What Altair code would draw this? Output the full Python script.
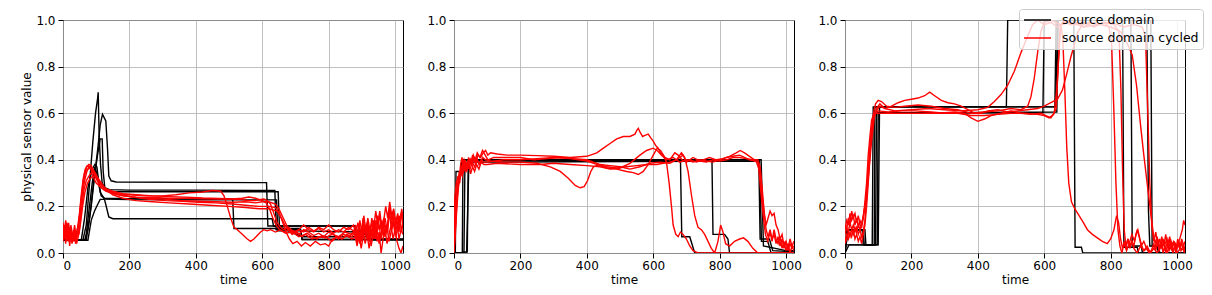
import altair as alt
import pandas as pd

# ---------------- data (x = time, y = physical sensor value) ----------------
# Panel 1
p1_source = [
    [(0,.055),(60,.055),(70,.12),(80,.3),(90,.48),(98,.6),(104,.66),(106,.69),(109,.5),(113,.38),(118,.3),(126,.28),(140,.272),(200,.27),(400,.27),(638,.268),(642,.1),(660,.1),(715,.1),(720,.058),(1024,.058)],
    [(0,.055),(65,.055),(75,.1),(85,.2),(95,.33),(105,.45),(112,.55),(119,.595),(129,.567),(134,.45),(138,.33),(145,.31),(160,.305),(400,.303),(613,.302),(617,.116),(880,.116),(884,.097),(918,.097),(922,.058),(1024,.058)],
    [(0,.055),(70,.055),(80,.15),(92,.3),(104,.42),(112,.49),(118,.49),(121,.35),(126,.28),(135,.265),(160,.263),(400,.263),(648,.263),(652,.11),(665,.105),(720,.07),(920,.07),(923,.058),(1024,.058)],
    [(0,.055),(75,.055),(85,.14),(95,.18),(105,.21),(112,.23),(125,.23),(132,.19),(138,.155),(150,.147),(400,.147),(630,.147),(634,.116),(880,.116),(884,.08),(925,.08),(928,.058),(1024,.058)],
    [(0,.055),(55,.055),(65,.15),(75,.28),(88,.36),(96,.38),(102,.37),(108,.3),(115,.245),(125,.235),(200,.233),(511,.232),(515,.105),(715,.105),(720,.058),(1024,.058)],
    [(0,.055),(68,.055),(78,.18),(88,.3),(96,.37),(104,.33),(112,.26),(125,.232),(200,.229),(400,.228),(643,.228),(647,.095),(700,.095),(900,.09),(920,.075),(925,.058),(1024,.058)],
]
p1_cycled = [
    [(0,.08),(5,.12),(9,.06),(13,.1),(17,.05),(22,.09),(27,.04),(32,.07),(37,.05),(42,.09),(47,.12),(52,.18),(58,.25),(65,.31),(72,.35),(78,.37),(84,.36),(90,.33),(100,.30),(115,.28),(130,.265),(160,.255),(200,.25),(250,.245),(300,.245),(340,.25),(380,.258),(420,.262),(450,.268),(475,.265),(485,.245),(495,.2),(505,.15),(515,.11),(525,.1),(540,.08),(555,.06),(565,.05),(575,.06),(585,.075),(595,.09),(605,.1),(615,.095),(625,.1),(640,.09),(655,.1),(670,.085),(690,.09),(710,.07),(730,.08),(750,.06),(770,.07),(790,.065),(810,.08),(830,.07),(850,.09),(870,.08),(880,.1),(886,.06),(892,.12),(898,.08),(904,.15),(910,.09),(916,.13),(922,.05),(928,.1),(934,.07),(940,.14),(946,.09),(952,.12),(958,.06),(964,.1),(970,.15),(976,.1),(982,.18),(988,.12),(994,.16),(1000,.1),(1006,.14),(1012,.09),(1018,.17),(1024,.12)],
    [(0,.1),(5,.06),(9,.12),(13,.08),(17,.13),(21,.07),(25,.11),(30,.06),(34,.09),(38,.04),(43,.08),(48,.14),(54,.22),(60,.3),(66,.35),(72,.37),(78,.38),(85,.375),(92,.35),(100,.32),(110,.29),(125,.27),(150,.255),(180,.245),(220,.24),(270,.238),(320,.235),(380,.235),(430,.233),(480,.232),(530,.23),(560,.225),(580,.225),(595,.23),(605,.232),(615,.225),(625,.21),(635,.17),(645,.13),(655,.11),(665,.1),(680,.11),(695,.09),(710,.1),(725,.12),(740,.1),(755,.09),(770,.11),(785,.1),(800,.12),(815,.1),(830,.09),(845,.11),(860,.1),(875,.12),(882,.08),(888,.13),(894,.1),(900,.05),(906,.11),(912,.08),(918,.15),(924,.1),(930,.13),(936,.06),(942,.11),(948,.16),(954,.1),(960,.14),(966,.07),(972,.12),(978,.09),(984,.2),(990,.14),(996,.18),(1002,.12),(1008,.16),(1014,.1),(1020,.19),(1024,.15)],
    [(0,.12),(4,.08),(8,.14),(12,.1),(16,.06),(21,.11),(26,.08),(31,.05),(36,.09),(41,.04),(46,.07),(51,.12),(57,.2),(63,.27),(70,.31),(78,.33),(86,.345),(94,.35),(102,.33),(112,.3),(125,.28),(145,.265),(170,.25),(210,.24),(260,.23),(310,.225),(360,.222),(410,.218),(460,.215),(510,.21),(550,.205),(590,.2),(620,.2),(640,.195),(652,.17),(662,.13),(672,.09),(682,.06),(692,.04),(705,.05),(718,.03),(730,.045),(745,.03),(760,.05),(775,.035),(790,.04),(800,.03),(812,.06),(825,.07),(840,.06),(855,.08),(870,.07),(880,.09),(886,.04),(892,.08),(898,.02),(904,.07),(910,.11),(916,.06),(922,.1),(928,.03),(934,.08),(940,.12),(946,.05),(952,.09),(958,.0),(964,.06),(970,.1),(976,.04),(982,.08),(988,.12),(994,.06),(1000,.1),(1006,.05),(1012,.02),(1018,.0),(1024,.03)],
    [(0,.05),(4,.09),(8,.04),(12,.13),(16,.09),(20,.05),(25,.1),(30,.07),(35,.12),(40,.06),(45,.1),(50,.15),(56,.24),(62,.31),(68,.35),(75,.36),(82,.365),(90,.36),(98,.34),(108,.31),(120,.285),(140,.26),(170,.25),(210,.24),(260,.235),(310,.23),(360,.225),(410,.222),(460,.22),(510,.218),(550,.22),(580,.215),(600,.22),(620,.22),(640,.21),(650,.19),(660,.16),(670,.13),(680,.1),(695,.095),(710,.08),(725,.1),(740,.09),(755,.075),(770,.085),(785,.07),(800,.09),(815,.08),(830,.06),(845,.08),(860,.07),(875,.09),(882,.12),(888,.07),(894,.14),(900,.09),(906,.16),(912,.1),(918,.13),(924,.07),(930,.15),(936,.11),(942,.18),(948,.12),(954,.16),(960,.09),(966,.14),(972,.2),(978,.15),(984,.22),(990,.16),(996,.19),(1002,.13),(1008,.17),(1014,.12),(1020,.18),(1024,.14)],
    [(0,.13),(4,.09),(8,.13),(12,.07),(16,.11),(20,.08),(24,.12),(28,.05),(33,.09),(38,.06),(43,.1),(48,.08),(53,.13),(59,.2),(66,.26),(74,.3),(82,.32),(90,.33),(98,.33),(106,.32),(116,.3),(130,.27),(150,.25),(180,.235),(220,.225),(270,.22),(320,.215),(380,.21),(440,.205),(500,.2),(550,.195),(590,.19),(620,.19),(645,.18),(658,.15),(668,.12),(678,.1),(690,.08),(705,.09),(720,.07),(735,.085),(750,.07),(765,.06),(780,.075),(795,.065),(810,.05),(825,.07),(840,.06),(855,.075),(870,.06),(880,.07),(886,.03),(892,.09),(898,.05),(904,.1),(910,.04),(916,.08),(922,.02),(928,.07),(934,.12),(940,.06),(946,.1),(952,.04),(958,.08),(964,.13),(970,.07),(976,.11),(982,.05),(988,.09),(994,.14),(1000,.08),(1006,.12),(1012,.06),(1018,.1),(1024,.08)],
    [(0,.07),(4,.12),(8,.08),(12,.05),(16,.1),(20,.03),(24,.08),(29,.05),(34,.1),(39,.07),(44,.11),(49,.16),(55,.25),(61,.32),(67,.36),(73,.375),(80,.37),(88,.355),(96,.33),(105,.31),(115,.29),(130,.275),(150,.265),(180,.255),(220,.25),(270,.245),(320,.242),(370,.24),(420,.236),(470,.234),(510,.232),(540,.235),(560,.24),(580,.235),(600,.225),(612,.215),(622,.19),(632,.15),(642,.12),(652,.1),(665,.09),(680,.1),(695,.085),(710,.1),(725,.09),(740,.11),(755,.095),(770,.105),(785,.09),(800,.1),(815,.085),(830,.1),(845,.09),(860,.11),(875,.095),(882,.06),(888,.1),(894,.04),(900,.09),(906,.13),(912,.07),(918,.11),(924,.05),(930,.1),(936,.14),(942,.08),(948,.12),(954,.18),(960,.11),(966,.15),(972,.08),(978,.13),(984,.17),(990,.1),(996,.14),(1002,.07),(1008,.11),(1014,.16),(1020,.09),(1024,.13)],
]

# Panel 2
p2_source = [
    [(0,0),(4,0),(6,.35),(20,.35),(24,.4),(682,.4),(686,.07),(710,.07),(725,0),(1024,0)],
    [(0,0),(25,0),(27,.4),(777,.395),(780,.08),(815,.08),(825,.06),(830,0),(1024,0)],
    [(0,0),(26,0),(28,.005),(40,.005),(43,.4),(918,.4),(922,.06),(950,.06),(960,.01),(1024,.005)],
    [(0,0),(30,0),(33,.39),(920,.395),(926,.05),(945,.05),(955,0),(1024,0)],
    [(0,0),(38,0),(45,.4),(925,.4),(932,.03),(1000,.01),(1024,.01)],
]
p2_cycled = [
    [(0,.05),(3,.15),(6,.2),(10,.25),(14,.3),(18,.33),(22,.36),(26,.38),(30,.4),(35,.37),(40,.39),(45,.36),(50,.4),(55,.38),(60,.41),(66,.39),(72,.42),(80,.41),(88,.43),(95,.44),(102,.42),(110,.43),(130,.425),(160,.42),(200,.42),(250,.418),(300,.415),(350,.41),(400,.415),(430,.43),(450,.45),(470,.47),(490,.49),(510,.5),(530,.5),(545,.51),(550,.525),(555,.535),(560,.52),(568,.5),(575,.505),(585,.51),(592,.495),(600,.48),(608,.46),(615,.45),(622,.43),(630,.42),(640,.39),(648,.3),(655,.2),(660,.12),(668,.08),(675,.07),(682,.09),(690,.08),(700,.06),(710,.03),(720,.01),(735,0),(800,0),(1024,0)],
    [(0,.02),(4,.1),(8,.2),(12,.28),(16,.32),(20,.35),(25,.33),(30,.37),(36,.35),(42,.38),(48,.36),(55,.39),(62,.37),(70,.4),(78,.38),(86,.41),(95,.4),(110,.395),(150,.39),(200,.39),(250,.385),(290,.37),(320,.35),(345,.32),(365,.29),(380,.28),(392,.285),(402,.31),(412,.35),(420,.37),(440,.38),(470,.375),(500,.37),(530,.36),(560,.37),(590,.385),(620,.39),(650,.385),(670,.4),(685,.43),(695,.41),(705,.35),(715,.25),(725,.16),(735,.11),(745,.1),(755,.08),(765,.05),(775,.02),(785,.0),(795,.05),(803,.12),(810,.09),(818,.04),(830,.03),(845,.05),(860,.06),(872,.065),(885,.05),(900,.02),(915,0),(1024,0)],
    [(0,.18),(3,.25),(7,.3),(12,.33),(17,.3),(22,.36),(27,.34),(32,.39),(38,.35),(44,.38),(50,.34),(56,.37),(62,.35),(68,.38),(75,.36),(82,.39),(90,.38),(100,.38),(130,.385),(200,.38),(260,.38),(300,.385),(350,.38),(400,.375),(440,.37),(470,.36),(500,.365),(530,.385),(560,.42),(580,.44),(600,.45),(612,.44),(625,.42),(640,.4),(660,.41),(680,.39),(700,.4),(720,.39),(740,.4),(760,.395),(780,.39),(800,.4),(820,.41),(840,.415),(860,.42),(875,.41),(890,.4),(905,.395),(915,.39),(922,.35),(928,.25),(934,.17),(940,.12),(946,.15),(952,.18),(958,.16),(964,.17),(970,.12),(976,.1),(982,.06),(988,.08),(994,.03),(1000,.05),(1006,.02),(1012,.06),(1018,.03),(1024,.05)],
    [(0,.0),(4,.08),(8,.18),(12,.26),(16,.32),(20,.38),(24,.41),(28,.37),(33,.4),(38,.36),(44,.41),(50,.38),(56,.42),(62,.39),(68,.41),(75,.38),(82,.4),(90,.39),(100,.39),(150,.4),(200,.4),(250,.405),(300,.41),(350,.405),(400,.395),(430,.38),(460,.365),(490,.36),(520,.35),(540,.345),(555,.337),(570,.35),(585,.38),(600,.42),(612,.45),(622,.44),(635,.41),(650,.4),(665,.43),(675,.42),(690,.395),(710,.4),(730,.39),(750,.4),(770,.41),(790,.4),(810,.405),(830,.415),(850,.43),(862,.44),(875,.43),(890,.415),(905,.4),(915,.4),(922,.37),(928,.28),(934,.18),(940,.1),(946,.07),(952,.1),(958,.06),(964,.08),(970,.04),(976,.07),(982,.03),(988,.06),(994,.02),(1000,.05),(1006,.01),(1012,.04),(1018,.02),(1024,.03)],
    [(0,.1),(4,.2),(8,.27),(12,.31),(16,.35),(20,.33),(25,.38),(30,.35),(35,.39),(40,.37),(46,.4),(52,.38),(58,.42),(64,.4),(70,.43),(78,.41),(86,.44),(94,.42),(102,.4),(120,.41),(160,.41),(200,.41),(240,.4),(280,.405),(320,.41),(360,.405),(400,.4),(430,.385),(460,.37),(490,.365),(520,.37),(550,.375),(580,.38),(610,.38),(630,.385),(650,.39),(670,.4),(690,.42),(700,.39),(720,.41),(740,.395),(760,.39),(780,.4),(800,.395),(820,.4),(840,.41),(860,.41),(880,.405),(900,.4),(910,.395),(918,.36),(925,.25),(932,.15),(938,.08),(945,.05),(952,.09),(958,.05),(964,.1),(970,.06),(976,.04),(982,.07),(988,.02),(994,.05),(1000,.01),(1006,.04),(1012,.0),(1018,.03),(1024,.01)],
]

# Panel 3
p3_source = [
    [(0,0),(6,.1),(55,.1),(58,.035),(82,.035),(85,.627),(486,.627),(490,1.0),(689,1.0),(693,.025),(712,.025),(716,0),(1024,0)],
    [(0,0),(8,.1),(60,.1),(63,.035),(92,.035),(95,.602),(596,.602),(600,1.0),(836,1.0),(840,.025),(880,.025),(884,0),(1024,0)],
    [(0,.0),(10,.1),(52,.1),(55,.035),(88,.035),(90,.627),(632,.627),(636,1.0),(861,1.0),(865,.03),(892,.03),(896,0),(1024,0)],
    [(0,0),(12,.035),(97,.035),(100,.6),(638,.605),(642,1.0),(909,1.0),(914,.18),(918,.03),(945,.03),(948,0),(1024,0)],
    [(0,.035),(100,.035),(104,.627),(635,.627),(640,1.0),(921,1.0),(925,.03),(940,.03),(944,0),(1024,0)],
]
p3_cycled = [
    [(0,.1),(5,.14),(10,.12),(15,.17),(20,.14),(25,.16),(30,.12),(35,.15),(40,.11),(45,.14),(50,.12),(55,.16),(60,.2),(65,.25),(70,.35),(75,.45),(80,.53),(86,.58),(95,.61),(105,.63),(120,.62),(150,.61),(200,.615),(250,.62),(300,.615),(350,.61),(400,.615),(430,.625),(450,.65),(470,.68),(490,.72),(510,.78),(530,.86),(550,.93),(565,.98),(580,1.0),(600,.98),(620,.99),(640,.97),(660,.99),(680,.98),(700,.99),(720,.97),(740,.99),(760,.98),(780,.99),(795,.97),(803,.9),(810,.6),(816,.3),(822,.1),(828,.03),(834,.0),(840,.04),(846,.02),(852,.06),(858,.03),(864,.05),(870,.02),(880,.0),(890,.03),(900,.01),(910,.02),(920,.0),(930,.04),(936,.01),(942,.06),(948,.02),(954,.07),(960,.03),(966,.08),(972,.02),(978,.06),(984,.01),(990,.05),(996,.0),(1002,.04),(1008,.02),(1014,.06),(1020,.03),(1024,.05)],
    [(0,.05),(5,.08),(10,.06),(15,.09),(20,.07),(25,.1),(30,.06),(35,.08),(40,.05),(45,.07),(50,.04),(55,.08),(60,.12),(65,.2),(70,.3),(75,.42),(80,.52),(86,.6),(92,.64),(100,.655),(110,.65),(125,.63),(150,.625),(180,.63),(220,.635),(260,.63),(300,.62),(340,.615),(380,.6),(420,.605),(460,.61),(500,.62),(530,.615),(550,.63),(560,.67),(570,.75),(580,.86),(590,.95),(600,.99),(620,1.0),(650,.98),(680,.99),(720,.97),(760,.98),(800,.99),(840,.97),(870,.98),(895,.97),(905,.93),(912,.6),(918,.3),(924,.12),(930,.05),(936,.09),(942,.03),(948,.06),(954,.02),(960,.05),(966,.0),(972,.04),(978,.07),(984,.02),(990,.05),(996,.01),(1002,.06),(1008,.02),(1014,.04),(1020,.01),(1024,.03)],
    [(0,.12),(5,.1),(10,.15),(15,.12),(20,.18),(25,.15),(30,.17),(35,.13),(40,.16),(45,.12),(50,.11),(55,.15),(60,.22),(65,.3),(70,.42),(75,.5),(80,.57),(88,.6),(100,.6),(130,.6),(180,.6),(230,.6),(280,.6),(330,.605),(360,.6),(380,.58),(400,.565),(420,.575),(440,.59),(470,.6),(500,.61),(530,.6),(560,.595),(590,.6),(605,.59),(620,.58),(630,.6),(638,.7),(644,.85),(650,.98),(656,.92),(662,.7),(668,.45),(674,.3),(682,.22),(692,.19),(705,.16),(718,.13),(730,.1),(745,.08),(760,.065),(775,.05),(790,.04),(800,.06),(810,.1),(818,.16),(824,.13),(830,.06),(836,.02),(842,.05),(848,.01),(856,.04),(864,.08),(872,.05),(880,.1),(886,.07),(892,.03),(900,.05),(908,.02),(916,.0),(930,.02),(940,.0),(950,.03),(960,.01),(970,.04),(980,.02),(990,.05),(1000,.03),(1008,.06),(1016,.1),(1020,.14),(1024,.12)],
    [(0,.04),(5,.06),(10,.09),(15,.07),(20,.1),(25,.08),(30,.11),(35,.09),(40,.12),(45,.1),(50,.13),(55,.15),(60,.2),(65,.25),(72,.35),(80,.48),(88,.58),(95,.62),(105,.64),(120,.62),(140,.63),(160,.645),(180,.655),(200,.66),(220,.665),(240,.675),(255,.69),(270,.675),(290,.655),(310,.645),(330,.64),(350,.63),(370,.615),(390,.6),(410,.6),(430,.61),(460,.615),(490,.605),(520,.61),(550,.615),(580,.62),(600,.63),(620,.645),(640,.66),(655,.7),(668,.77),(680,.84),(692,.9),(702,.95),(715,.98),(740,.99),(770,.98),(800,.97),(830,.95),(850,.9),(865,.85),(878,.72),(890,.55),(900,.42),(910,.3),(920,.18),(928,.09),(934,.04),(940,.07),(946,.02),(952,.05),(958,.0),(964,.04),(970,.06),(976,.01),(982,.03),(988,.0),(994,.04),(1000,.02),(1006,.05),(1012,.01),(1018,.03),(1024,.0)],
    [(0,.08),(5,.11),(10,.09),(15,.13),(20,.1),(25,.12),(30,.09),(35,.11),(40,.08),(45,.1),(50,.07),(55,.09),(60,.14),(66,.25),(72,.38),(78,.5),(85,.57),(92,.6),(100,.61),(130,.605),(170,.61),(210,.61),(260,.605),(300,.6),(340,.6),(380,.59),(420,.59),(460,.595),(500,.6),(540,.6),(580,.595),(600,.59),(615,.58),(628,.595),(636,.62),(642,.8),(648,.97),(660,1.0),(690,.98),(720,.99),(750,.97),(780,.99),(810,.98),(825,.95),(831,.7),(836,.35),(841,.1),(846,.03),(852,.06),(858,.02),(864,.05),(870,.03),(876,.08),(882,.1),(888,.06),(894,.03),(900,.01),(910,.03),(920,.0),(930,.02),(940,.05),(946,.01),(952,.03),(958,.06),(964,.02),(970,.0),(976,.03),(982,.05),(988,.01),(994,.03),(1000,.0),(1010,.02),(1024,.01)],
]

labels = ["source domain", "source domain cycled"]
x_ticks = [0, 200, 400, 600, 800, 1000]
y_ticks = [0.0, 0.2, 0.4, 0.6, 0.8, 1.0]

FONT = "DejaVu Sans"


def to_df(series_list, label, prefix):
    rows = []
    for i, s in enumerate(series_list):
        for j, (x, y) in enumerate(s):
            rows.append({"series": f"{prefix}{i}", "domain": label,
                         "x": x, "y": y, "order": j})
    return pd.DataFrame(rows)


color_scale = alt.Scale(domain=labels, range=["#000000", "#ff0000"])


def panel(src, cyc, show_ytitle, show_legend):
    df = pd.concat([to_df(src, labels[0], "s"), to_df(cyc, labels[1], "c")],
                   ignore_index=True)
    xaxis = alt.Axis(values=x_ticks, format="d", title="time", grid=True)
    yaxis = alt.Axis(values=y_ticks, format=".1f", grid=True,
                     title="physical sensor value" if show_ytitle else "")
    if show_legend:
        legend = alt.Legend(
            title=None, orient="none", legendX=174, legendY=-11,
            symbolType="M-1,0H3.5", symbolSize=144, symbolStrokeWidth=1.5,
            labelFont=FONT, labelFontSize=12.5, labelColor="#000000",
            labelOffset=25, fillColor="rgba(255,255,255,0.8)",
            strokeColor="#cccccc", cornerRadius=3, padding=4, rowPadding=4,
        )
    else:
        legend = None
    enc = dict(
        x=alt.X("x:Q", scale=alt.Scale(domain=[0, 1024], nice=False, zero=False), axis=xaxis),
        y=alt.Y("y:Q", scale=alt.Scale(domain=[0, 1], nice=False), axis=yaxis),
        color=alt.Color("domain:N", scale=color_scale, legend=legend),
        detail="series:N",
        order="order:Q",
    )
    base = alt.Chart(df)
    black = base.transform_filter(alt.datum.domain == labels[0]).mark_line(
        strokeWidth=1.4, clip=True).encode(**enc)
    red = base.transform_filter(alt.datum.domain == labels[1]).mark_line(
        strokeWidth=1.4, clip=True).encode(**enc)
    return alt.layer(black, red).properties(width=340, height=233)


c1 = panel(p1_source, p1_cycled, True, False)
c2 = panel(p2_source, p2_cycled, False, False)
c3 = panel(p3_source, p3_cycled, False, True)

chart = alt.hconcat(c1, c2, c3, spacing=51, bounds="flush").resolve_scale(
    color="independent"
).properties(
    padding={"left": 12, "top": 0, "right": 0, "bottom": 0},
    background="white",
).configure_view(
    stroke="#000000", strokeWidth=1
).configure_axis(
    labelFont=FONT, labelFontSize=12, labelColor="#000000",
    titleFont=FONT, titleFontSize=12, titleFontWeight="normal", titleColor="#000000",
    gridColor="#b0b0b0", gridWidth=0.8, domain=False,
    tickColor="#000000", tickSize=5, tickWidth=1, labelPadding=2, titlePadding=3,
).configure_axisY(
    labelPadding=3, titlePadding=2
)

chart.save("out.html", embed_options={"renderer": "svg", "actions": False})
